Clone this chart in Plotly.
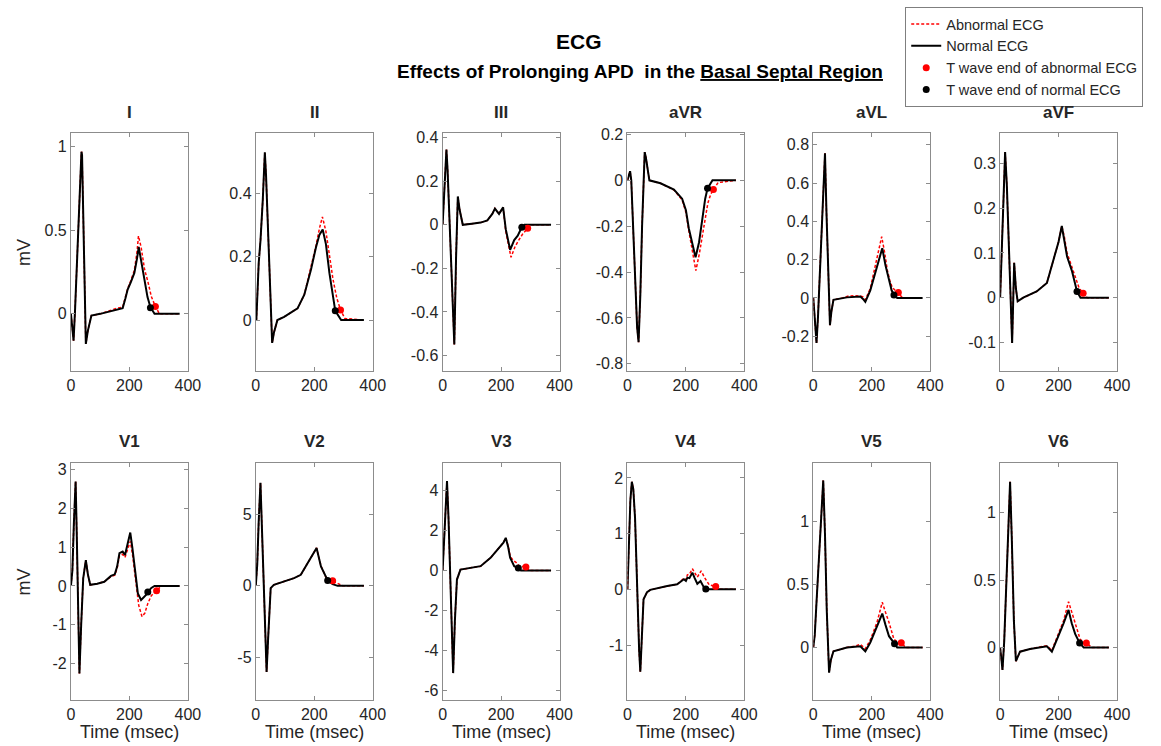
import plotly.graph_objects as go

# ---------------- data (time in msec, voltage in mV) ----------------
LEADS = ["I", "II", "III", "aVR", "aVL", "aVF", "V1", "V2", "V3", "V4", "V5", "V6"]

# Lead I
I_t = [0, 4, 9, 14, 20, 28, 36, 38, 44, 51, 58, 70, 100, 140, 177, 186, 194, 205, 217, 226, 232, 240, 252, 262, 272, 286, 372]
I_n = [0, -0.08, -0.16, 0.02, 0.28, 0.62, 0.97, 0.95, 0.4, -0.18, -0.1, -0.01, 0, 0.02, 0.034, 0.09, 0.145, 0.19, 0.245, 0.33, 0.40, 0.32, 0.185, 0.1, 0.04, 0, 0]
I_at = [120, 140, 160, 177, 186, 194, 205, 217, 226, 231, 240, 252, 263, 275, 289, 303, 372]
I_a = [0.012, 0.025, 0.035, 0.04, 0.1, 0.15, 0.2, 0.26, 0.37, 0.466, 0.40, 0.265, 0.195, 0.104, 0.044, 0, 0]
I_end = [272, 0.037, 289, 0.044]

# Lead II
II_t = [0, 2, 10, 16, 24, 31, 35, 40, 45, 50, 56, 62, 74, 97, 143, 166, 189, 206, 218, 229, 240, 252, 262, 272, 292, 370]
II_n = [0, 0, 0.18, 0.25, 0.38, 0.53, 0.46, 0.32, 0.18, 0.04, -0.072, -0.04, 0, 0.01, 0.037, 0.08, 0.16, 0.23, 0.27, 0.286, 0.24, 0.148, 0.08, 0.029, 0, 0]
II_at = [166, 189, 206, 218, 228, 240, 252, 264, 277, 290, 305, 370]
II_a = [0.08, 0.165, 0.235, 0.29, 0.326, 0.28, 0.2, 0.13, 0.07, 0.032, 0.005, 0]
II_end = [272, 0.029, 290, 0.032]

# Lead III
III_t = [0, 5, 10, 13, 17, 25, 33, 40, 46, 52, 58, 69, 100, 130, 153, 170, 179, 193, 207, 216, 231, 245, 257, 271, 280, 371]
III_n = [0, 0.12, 0.28, 0.345, 0.25, -0.05, -0.35, -0.55, -0.15, 0.13, 0.07, 0.0, 0.005, 0.01, 0.02, 0.05, 0.074, 0.05, 0.08, -0.02, -0.115, -0.07, -0.05, -0.011, 0, 0]
III_at = [153, 170, 179, 193, 207, 216, 234, 248, 260, 275, 291, 305, 371]
III_a = [0.02, 0.05, 0.075, 0.05, 0.08, -0.03, -0.149, -0.1, -0.072, -0.04, -0.018, 0, 0]
III_end = [271, -0.011, 291, -0.016]

# Lead aVR
aVR_t = [0, 5, 9, 13, 20, 28, 33, 38, 44, 50, 55, 59, 63, 75, 113, 159, 187, 200, 210, 222, 233, 245, 256, 266, 274, 291, 371]
aVR_n = [0, 0.03, 0.04, 0.0, -0.25, -0.5, -0.64, -0.706, -0.5, -0.2, 0.02, 0.123, 0.1, 0.0, -0.013, -0.04, -0.08, -0.13, -0.21, -0.28, -0.336, -0.27, -0.17, -0.08, -0.035, 0, 0]
aVR_at = [159, 187, 200, 210, 222, 234, 246, 262, 275, 285, 294, 310, 371]
aVR_a = [-0.042, -0.085, -0.14, -0.22, -0.3, -0.394, -0.32, -0.2, -0.1, -0.06, -0.04, -0.01, 0]
aVR_end = [274, -0.034, 294, -0.04]

# Lead aVL
aVL_t = [0, 5, 11, 16, 22, 28, 34, 40, 45, 51, 57, 62, 69, 115, 161, 170, 178, 195, 218, 236, 247, 259, 268, 276, 287, 374]
aVL_n = [0, -0.13, -0.235, -0.1, 0.12, 0.35, 0.57, 0.756, 0.45, 0.1, -0.142, -0.07, -0.01, 0.003, 0.007, -0.005, -0.02, 0.04, 0.165, 0.26, 0.17, 0.086, 0.04, 0.016, 0, 0]
aVL_at = [100, 120, 140, 161, 170, 178, 195, 218, 234, 245, 253, 262, 270, 280, 291, 305, 374]
aVL_a = [0.0, 0.01, 0.012, 0.01, 0.005, -0.01, 0.05, 0.2, 0.32, 0.23, 0.147, 0.09, 0.055, 0.04, 0.028, 0, 0]
aVL_end = [276, 0.016, 291, 0.028]

# Lead aVF
aVF_t = [0, 5, 10, 17, 23, 28, 33, 37, 41, 45, 48, 54, 60, 79, 125, 160, 183, 200, 211, 220, 229, 246, 263, 275, 372]
aVF_n = [0, 0.1, 0.22, 0.325, 0.25, 0.145, 0.033, -0.05, -0.101, 0.0, 0.078, 0.02, -0.008, 0.0, 0.014, 0.033, 0.085, 0.125, 0.16, 0.13, 0.092, 0.059, 0.014, 0, 0]
aVF_at = [160, 183, 200, 211, 220, 229, 240, 257, 270, 284, 298, 372]
aVF_a = [0.033, 0.085, 0.125, 0.16, 0.135, 0.1, 0.08, 0.045, 0.022, 0.01, 0, 0]
aVF_end = [263, 0.014, 284, 0.01]

# Lead V1
V1_t = [0, 5, 10, 16, 20, 25, 29, 35, 42, 51, 58, 66, 90, 114, 130, 137, 150, 158, 166, 177, 185, 195, 203, 210, 217, 229, 240, 257, 263, 275, 286, 372]
V1_n = [0, 0.41, 1.6, 2.7, 1.3, -0.6, -2.26, -1.0, 0.2, 0.67, 0.3, 0.03, 0.06, 0.11, 0.2, 0.26, 0.3, 0.5, 0.85, 0.89, 0.8, 1.1, 1.38, 1.0, 0.5, -0.19, -0.36, -0.23, -0.155, -0.05, 0, 0]
V1_at = [130, 137, 150, 158, 166, 177, 185, 195, 203, 210, 217, 223, 232, 243, 253, 263, 275, 293, 309, 372]
V1_a = [0.2, 0.24, 0.28, 0.45, 0.78, 0.82, 0.74, 1.0, 1.15, 0.85, 0.4, -0.02, -0.5, -0.79, -0.7, -0.45, -0.25, -0.12, 0, 0]
V1_end = [263, -0.155, 293, -0.12]

# Lead V2
V2_t = [0, 5, 10, 16, 20, 25, 30, 35, 37, 42, 46, 51, 62, 97, 131, 154, 171, 189, 208, 223, 240, 246, 263, 280, 370]
V2_n = [0, 1.5, 4.5, 7.2, 4.7, 1.5, -1.6, -4.8, -6.03, -3.8, -1.8, -0.16, 0.07, 0.3, 0.54, 0.77, 1.36, 1.95, 2.65, 1.36, 0.54, 0.38, 0.12, 0, 0]
V2_at = [223, 240, 252, 263, 280, 298, 370]
V2_a = [1.4, 0.6, 0.45, 0.35, 0.14, 0, 0]
V2_end = [246, 0.38, 263, 0.35]

# Lead V3
V3_t = [0, 5, 10, 15, 20, 25, 30, 36, 42, 49, 61, 95, 130, 164, 187, 200, 208, 216, 224, 231, 245, 259, 268, 371]
V3_n = [0, 1.5, 3.3, 4.49, 2.7, 0.4, -2.1, -5.14, -2.5, -0.45, 0.05, 0.13, 0.22, 0.64, 1.06, 1.3, 1.4, 1.64, 1.2, 0.64, 0.22, 0.13, 0, 0]
V3_at = [224, 231, 237, 245, 252, 262, 275, 285, 297, 371]
V3_a = [1.25, 0.75, 0.59, 0.47, 0.4, 0.22, 0.2, 0.18, 0, 0]
V3_end = [259, 0.13, 285, 0.18]

# Lead V4
V4_t = [0, 5, 10, 15, 20, 26, 30, 34, 40, 44, 50, 55, 67, 78, 136, 170, 185, 193, 200, 205, 212, 222, 230, 239, 250, 262, 268, 371]
V4_n = [0, 0.8, 1.6, 1.93, 1.8, 1.27, 0.5, -0.24, -1.1, -1.48, -0.7, -0.18, -0.05, -0.01, 0.06, 0.09, 0.15, 0.18, 0.15, 0.21, 0.2, 0.3, 0.2, 0.1, 0.15, 0.03, 0.0, 0]
V4_at = [170, 185, 193, 200, 205, 212, 222, 230, 239, 252, 265, 280, 302, 314, 371]
V4_a = [0.09, 0.16, 0.2, 0.17, 0.26, 0.27, 0.37, 0.3, 0.22, 0.33, 0.2, 0.08, 0.05, 0, 0]
V4_end = [268, 0.005, 302, 0.05]

# Lead V5
V5_t = [0, 5, 11, 17, 23, 29, 34, 40, 46, 54, 60, 69, 92, 115, 161, 178, 195, 218, 236, 247, 259, 278, 287, 374]
V5_n = [0, 0.1, 0.36, 0.6, 0.89, 1.15, 1.33, 0.9, 0.3, -0.2, -0.1, -0.03, -0.015, 0, 0.01, -0.03, 0.04, 0.17, 0.27, 0.18, 0.09, 0.03, 0, 0]
V5_at = [115, 140, 161, 178, 195, 218, 236, 247, 259, 276, 290, 301, 316, 374]
V5_a = [0.0, 0.01, 0.025, -0.01, 0.06, 0.2, 0.36, 0.28, 0.2, 0.064, 0.04, 0.037, 0, 0]
V5_end = [278, 0.03, 301, 0.037]

# Lead V6
V6_t = [0, 4, 8, 14, 20, 26, 30, 34, 40, 47, 54, 60, 68, 102, 160, 177, 200, 217, 234, 245, 257, 272, 286, 372]
V6_n = [0, -0.1, -0.165, 0.05, 0.4, 0.8, 1.05, 1.23, 0.8, 0.2, -0.1, -0.07, -0.03, -0.01, 0.01, -0.03, 0.085, 0.18, 0.28, 0.18, 0.1, 0.035, 0, 0]
V6_at = [102, 140, 160, 177, 200, 217, 234, 245, 257, 274, 285, 295, 315, 372]
V6_a = [-0.01, 0.005, 0.015, -0.02, 0.1, 0.2, 0.34, 0.27, 0.18, 0.06, 0.045, 0.035, 0, 0]
V6_end = [272, 0.035, 295, 0.035]

# y-axis ranges and tick values
Y_RANGES = [[-0.34, 1.08], [-0.16, 0.59], [-0.67, 0.42], [-0.83, 0.205], [-0.38, 0.86], [-0.163, 0.367],
            [-2.95, 3.18], [-8.0, 8.6], [-6.5, 5.4], [-1.99, 2.27], [-0.42, 1.47], [-0.39, 1.37]]
Y_TICKS = [["0", "0.5", "1"], ["0", "0.2", "0.4"], ["-0.6", "-0.4", "-0.2", "0", "0.2", "0.4"],
           ["-0.8", "-0.6", "-0.4", "-0.2", "0", "0.2"], ["-0.2", "0", "0.2", "0.4", "0.6", "0.8"],
           ["-0.1", "0", "0.1", "0.2", "0.3"], ["-2", "-1", "0", "1", "2", "3"], ["-5", "0", "5"],
           ["-6", "-4", "-2", "0", "2", "4"], ["-1", "0", "1", "2"], ["0", "0.5", "1"], ["0", "0.5", "1"]]
X_TICKS = ["0", "200", "400"]

DATA = {
    "I": (I_t, I_n, I_at, I_a, I_end), "II": (II_t, II_n, II_at, II_a, II_end),
    "III": (III_t, III_n, III_at, III_a, III_end), "aVR": (aVR_t, aVR_n, aVR_at, aVR_a, aVR_end),
    "aVL": (aVL_t, aVL_n, aVL_at, aVL_a, aVL_end), "aVF": (aVF_t, aVF_n, aVF_at, aVF_a, aVF_end),
    "V1": (V1_t, V1_n, V1_at, V1_a, V1_end), "V2": (V2_t, V2_n, V2_at, V2_a, V2_end),
    "V3": (V3_t, V3_n, V3_at, V3_a, V3_end), "V4": (V4_t, V4_n, V4_at, V4_a, V4_end),
    "V5": (V5_t, V5_n, V5_at, V5_a, V5_end), "V6": (V6_t, V6_n, V6_at, V6_a, V6_end),
}

# ---------------- layout geometry (target window pixels) ----------------
TW = 1161                     # target picture width
W, H = 1177, 750              # figure size that maps onto the photographed window
S = W / TW
YOFF = 8
COL_LEFT = [67, 252, 439, 624, 810, 997]
PW = 117
ROW_TOP = [134, 463]
PH = 237
FONT = "Liberation Sans, Arial, sans-serif"
TXT = "#262626"
AXC = "#8c8c8c"


def px(x):
    return x * S / W


def py(y):
    return 1 - (y * S - YOFF) / H


fig = go.Figure()
layout = dict(width=W, height=H, autosize=False, margin=dict(l=0, r=0, t=0, b=0),
              paper_bgcolor="white", plot_bgcolor="white",
              font=dict(family=FONT, color=TXT, size=16))
annotations = []

for i, name in enumerate(LEADS):
    r, c = divmod(i, 6)
    k = i + 1
    xs = "x" if k == 1 else f"x{k}"
    ys = "y" if k == 1 else f"y{k}"
    t, n, at, a, tend = DATA[name]
    abn_t = [tt for tt in t if tt < at[0]] + at
    abn_v = [vv for tt, vv in zip(t, n) if tt < at[0]] + a
    first = (i == 0)
    fig.add_trace(go.Scatter(x=abn_t, y=abn_v, xaxis=xs, yaxis=ys, mode="lines",
                             line=dict(color="#ff0000", width=1.5, dash="3px,2px"),
                             name="Abnormal ECG", legendgroup="a", showlegend=first))
    fig.add_trace(go.Scatter(x=t, y=n, xaxis=xs, yaxis=ys, mode="lines",
                             line=dict(color="black", width=2),
                             name="Normal ECG", legendgroup="n", showlegend=first))
    fig.add_trace(go.Scatter(x=[tend[2]], y=[tend[3]], xaxis=xs, yaxis=ys, mode="markers",
                             marker=dict(color="#ff0000", size=7),
                             name="T wave end of abnormal ECG", legendgroup="ta", showlegend=first))
    fig.add_trace(go.Scatter(x=[tend[0]], y=[tend[1]], xaxis=xs, yaxis=ys, mode="markers",
                             marker=dict(color="black", size=7),
                             name="T wave end of normal ECG", legendgroup="tn", showlegend=first))

    x0, x1 = px(COL_LEFT[c]), px(COL_LEFT[c] + PW)
    y1, y0 = py(ROW_TOP[r]), py(ROW_TOP[r] + PH)
    common = dict(showline=True, linecolor=AXC, linewidth=1, mirror="ticks", ticks="inside",
                  ticklen=4, tickcolor=AXC, showgrid=False, zeroline=False,
                  tickfont=dict(family=FONT, size=16, color=TXT), fixedrange=True)
    layout["xaxis" if k == 1 else f"xaxis{k}"] = dict(
        domain=[x0, x1], anchor=ys, range=[0, 400],
        tickvals=[float(v) for v in X_TICKS], ticktext=X_TICKS, **common)
    layout["yaxis" if k == 1 else f"yaxis{k}"] = dict(
        domain=[y0, y1], anchor=xs, range=Y_RANGES[i],
        tickvals=[float(v) for v in Y_TICKS[i]], ticktext=Y_TICKS[i], **common)

    # panel title
    annotations.append(dict(text=f"<b>{name}</b>", x=(x0 + x1) / 2, y=py(ROW_TOP[r] - 21),
                            xref="paper", yref="paper", showarrow=False, xanchor="center", yanchor="middle",
                            font=dict(family=FONT, size=17, color=TXT)))
    if r == 1:
        annotations.append(dict(text="Time (msec)", x=(x0 + x1) / 2, y=py(732),
                                xref="paper", yref="paper", showarrow=False, xanchor="center",
                                yanchor="middle", font=dict(family=FONT, size=18, color=TXT)))
    if c == 0:
        annotations.append(dict(text="mV", x=px(20), y=py(ROW_TOP[r] + PH / 2),
                                xref="paper", yref="paper", showarrow=False, textangle=-90,
                                xanchor="center", yanchor="middle",
                                font=dict(family=FONT, size=18, color=TXT)))

annotations.append(dict(text="<b>ECG</b>", x=px(575), y=py(42), xref="paper", yref="paper",
                        showarrow=False, xanchor="center", yanchor="middle",
                        font=dict(family=FONT, size=21, color="black")))
annotations.append(dict(text="<b>Effects of Prolonging APD  in the <u>Basal Septal Region</u></b>",
                        x=px(637), y=py(72), xref="paper", yref="paper",
                        showarrow=False, xanchor="center", yanchor="middle",
                        font=dict(family=FONT, size=19, color="black")))

layout["annotations"] = annotations
layout["showlegend"] = True
layout["legend"] = dict(x=px(902), y=1, xanchor="left", yanchor="top",
                        bgcolor="white", bordercolor="#7f7f7f", borderwidth=1,
                        font=dict(family=FONT, size=14.5, color=TXT),
                        tracegroupgap=0, itemwidth=30, traceorder="normal")
fig.update_layout(**layout)
fig.write_html("out.html", config={"responsive": False, "displayModeBar": False},
               post_script="document.body.style.margin='0';document.body.style.padding='0';"
                           "document.body.style.overflow='hidden';")
